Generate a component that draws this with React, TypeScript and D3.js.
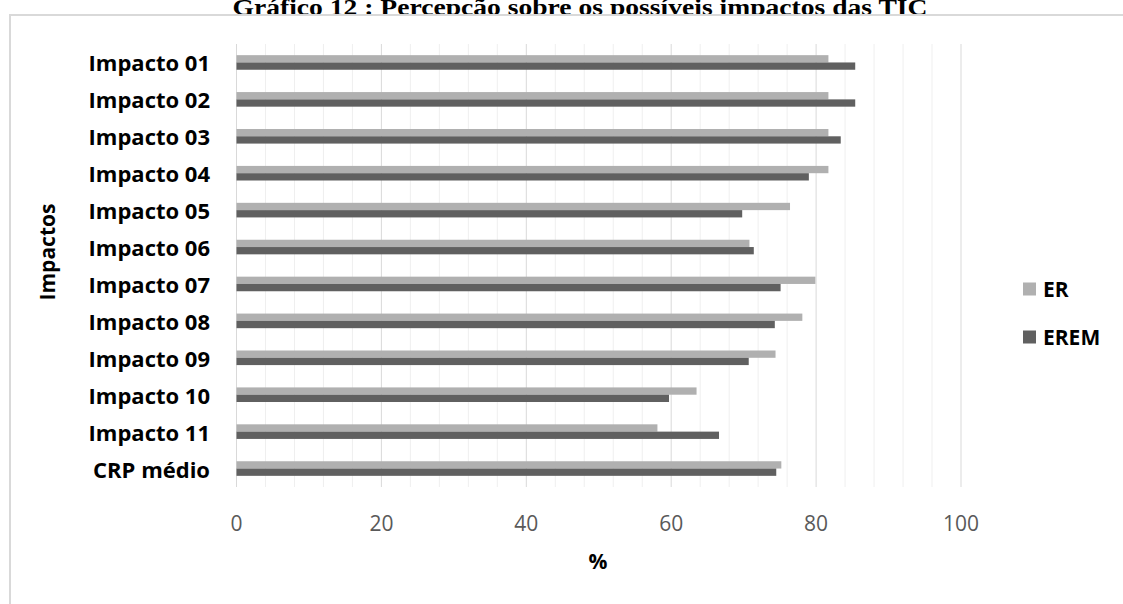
import React, { useEffect, useRef } from 'react';
import * as d3 from 'd3';

const categories = [
  'Impacto 01', 'Impacto 02', 'Impacto 03', 'Impacto 04', 'Impacto 05', 'Impacto 06',
  'Impacto 07', 'Impacto 08', 'Impacto 09', 'Impacto 10', 'Impacto 11', 'CRP médio',
];
const erValues = [81.7, 81.7, 81.7, 81.7, 76.4, 70.8, 79.9, 78.1, 74.4, 63.5, 58.1, 75.2];
const eremValues = [85.4, 85.4, 83.4, 79.0, 69.8, 71.4, 75.1, 74.3, 70.7, 59.7, 66.6, 74.5];
const seriesNames = ['ER', 'EREM'];
const seriesColors = ['#b0b0b0', '#606060'];
const xTicks = [0, 20, 40, 60, 80, 100];

const App: React.FC = () => {
  const svgRef = useRef<SVGSVGElement>(null);

  useEffect(() => {
    if (!svgRef.current) return;
    const W = 1123, H = 604;
    const svg = d3.select(svgRef.current);
    svg.selectAll('*').remove();
    svg.attr('width', W).attr('height', H);

    const font = "'Open Sans', sans-serif";

    // title (partly hidden behind the chart frame, as in the source)
    svg.append('text')
      .attr('x', 580).attr('y', 15)
      .attr('text-anchor', 'middle')
      .attr('textLength', 695)
      .attr('lengthAdjust', 'spacingAndGlyphs')
      .style('font-family', "'Liberation Serif', serif")
      .style('font-weight', 'bold')
      .style('font-size', '23px')
      .text('Gráfico 12 : Percepção sobre os possíveis impactos das TIC');

    // chart frame
    svg.append('rect')
      .attr('x', 10).attr('y', 15)
      .attr('width', 1130).attr('height', 620)
      .attr('fill', '#fff')
      .attr('stroke', '#d9d9d9')
      .attr('stroke-width', 2);

    const top = 44, bottom = 487;
    const x = d3.scaleLinear().domain([0, 100]).range([236.5, 961]);
    const y = d3.scaleBand().domain(categories).range([top, bottom]);

    // gridlines: minor every 4, major every 20
    const minor = d3.range(0, 101, 4).filter(v => v % 20 !== 0);
    svg.append('g').selectAll('line').data(minor).enter().append('line')
      .attr('x1', d => x(d)).attr('x2', d => x(d))
      .attr('y1', top).attr('y2', bottom)
      .attr('stroke', '#efefef').attr('stroke-width', 1);
    svg.append('g').selectAll('line').data(xTicks).enter().append('line')
      .attr('x1', d => x(d)).attr('x2', d => x(d))
      .attr('y1', top).attr('y2', bottom)
      .attr('stroke', '#d9d9d9').attr('stroke-width', 1);

    // bars
    const barH = 7.3;
    const series = [erValues, eremValues];
    series.forEach((vals, si) => {
      svg.append('g').selectAll('rect').data(vals).enter().append('rect')
        .attr('x', x(0))
        .attr('y', (d, i) => (y(categories[i]) || 0) + y.bandwidth() / 2 - barH + si * barH)
        .attr('width', d => x(d) - x(0))
        .attr('height', barH)
        .attr('fill', seriesColors[si]);
    });

    // category labels
    svg.append('g').selectAll('text').data(categories).enter().append('text')
      .attr('x', 210)
      .attr('y', d => (y(d) || 0) + y.bandwidth() / 2)
      .attr('text-anchor', 'end')
      .attr('dominant-baseline', 'central')
      .style('font-family', font)
      .style('font-weight', 'bold')
      .style('font-size', '22px')
      .style('fill', '#000')
      .text(d => d);

    // x tick labels
    svg.append('g').selectAll('text').data(xTicks).enter().append('text')
      .attr('x', d => x(d))
      .attr('y', 523)
      .attr('text-anchor', 'middle')
      .attr('dominant-baseline', 'central')
      .style('font-family', font)
      .style('font-size', '21px')
      .style('fill', '#595959')
      .text(d => String(d));

    // axis titles
    svg.append('text')
      .attr('x', 598).attr('y', 561)
      .attr('text-anchor', 'middle')
      .attr('dominant-baseline', 'central')
      .style('font-family', font)
      .style('font-weight', 'bold')
      .style('font-size', '21px')
      .style('fill', '#000')
      .text('%');

    svg.append('text')
      .attr('transform', 'translate(47,252) rotate(-90)')
      .attr('text-anchor', 'middle')
      .attr('dominant-baseline', 'central')
      .style('font-family', font)
      .style('font-weight', 'bold')
      .style('font-size', '21px')
      .style('fill', '#000')
      .text('Impactos');

    // legend
    const legendY = [289, 337];
    seriesNames.forEach((name, i) => {
      svg.append('rect')
        .attr('x', 1023).attr('y', legendY[i] - 6.5)
        .attr('width', 13).attr('height', 13)
        .attr('fill', seriesColors[i]);
      svg.append('text')
        .attr('x', 1043).attr('y', legendY[i])
        .attr('dominant-baseline', 'central')
        .style('font-family', font)
        .style('font-weight', 'bold')
        .style('font-size', '21px')
        .style('fill', '#000')
        .text(name);
    });
  }, []);

  return (
    <svg ref={svgRef} style={{ position: 'absolute', left: 0, top: 0 }}></svg>
  );
};

export default App;
